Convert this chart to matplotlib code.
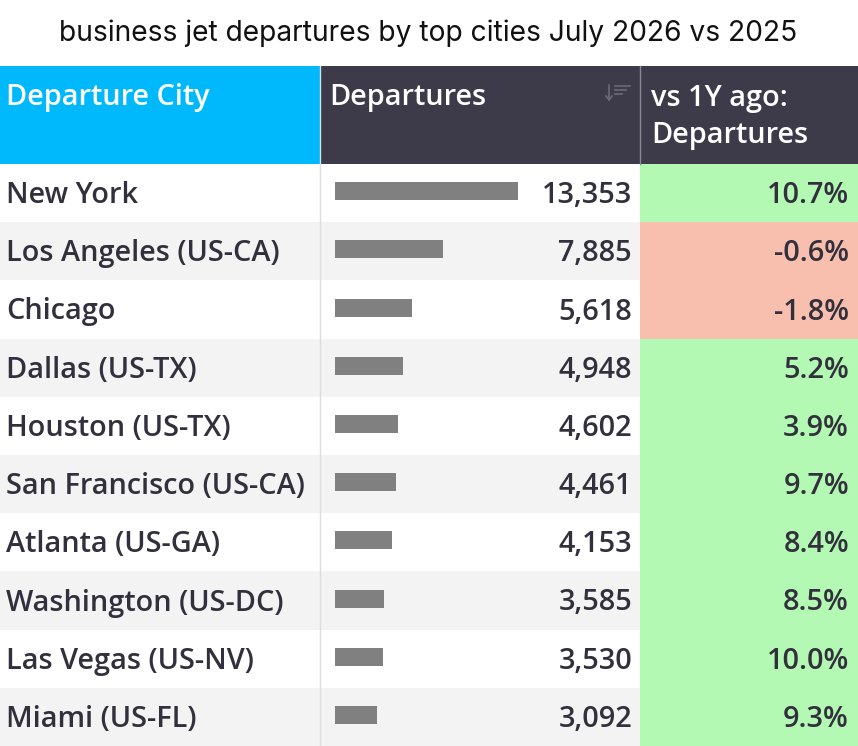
import numpy as np
import matplotlib.pyplot as plt
from matplotlib.patches import Rectangle

cities = ["New York", "Los Angeles (US-CA)", "Chicago", "Dallas (US-TX)", "Houston (US-TX)",
          "San Francisco (US-CA)", "Atlanta (US-GA)", "Washington (US-DC)", "Las Vegas (US-NV)",
          "Miami (US-FL)"]
departures = [13353, 7885, 5618, 4948, 4602, 4461, 4153, 3585, 3530, 3092]
yoy_change = [10.7, -0.6, -1.8, 5.2, 3.9, 9.7, 8.4, 8.5, 10.0, 9.3]

title = "business jet departures by top cities July 2026 vs 2025"
headers = ["Departure City", "Departures", "vs 1Y ago:\nDepartures"]

W, H = 858, 746
fig = plt.figure(figsize=(W / 100, H / 100), dpi=100)
ax = fig.add_axes([0, 0, 1, 1])
ax.set_xlim(0, W)
ax.set_ylim(H, 0)
ax.axis("off")

FONT = "Open Sans"
FS = 20.8
TXT = "#32303c"
col_x = [0, 320, 640, W]
head_top, head_bot = 66, 164
row_h = (H - head_bot) / len(cities)
bar_left, bar_max = 335, 183  # pixels for the largest value
bar_scale = bar_max / max(departures)

ax.text(W / 2 - 1, 33, title, ha="center", va="center", fontsize=20.3, family="Inter", color="#111111")

# header
ax.add_patch(Rectangle((0, head_top), col_x[1], head_bot - head_top, color="#00b8fc", lw=0))
ax.add_patch(Rectangle((col_x[1], head_top), W - col_x[1], head_bot - head_top, color="#3d3a4a", lw=0))
ax.plot([col_x[2], col_x[2]], [head_top, head_bot], color="#8a8896", lw=1)
ax.plot([col_x[1], col_x[1]], [head_top, head_bot], color="#dddddd", lw=1)
ax.text(6, 98, headers[0], ha="left", va="center", fontsize=FS, family=FONT, weight="semibold", color="white")
ax.text(329, 98, headers[1], ha="left", va="center", fontsize=FS, family=FONT, weight="semibold", color="white")
ax.text(651, 117, headers[2], ha="left", va="center", fontsize=FS, family=FONT, weight="semibold",
        color="white", linespacing=1.38)
# faint sort icon
ax.plot([609, 609], [85, 100], color="#6b6978", lw=1.2)
ax.plot([606, 609, 612], [96, 100, 96], color="#6b6978", lw=1.2)
for k, w in enumerate([15, 11, 7]):
    ax.plot([615, 615 + w], [86 + k * 4, 86 + k * 4], color="#6b6978", lw=1.2)

# body rows
centers = head_bot + row_h * (np.arange(len(cities)) + 0.5)
for i, (city, dep, chg) in enumerate(zip(cities, departures, yoy_change)):
    top = head_bot + row_h * i
    bg = "white" if i % 2 == 0 else "#f3f3f3"
    ax.add_patch(Rectangle((0, top), col_x[2], row_h, color=bg, lw=0))
    cell = "#b3f9b3" if chg >= 0 else "#f9bfae"
    ax.add_patch(Rectangle((col_x[2], top), W - col_x[2], row_h, color=cell, lw=0))
    ax.text(6, centers[i] + 2.5, city, ha="left", va="center", fontsize=FS, family=FONT,
            weight="semibold", color=TXT)
    ax.text(632, centers[i] + 2.5, f"{dep:,}", ha="right", va="center", fontsize=FS, family=FONT,
            weight="semibold", color=TXT)
    ax.text(849, centers[i] + 2.5, f"{chg:.1f}%", ha="right", va="center", fontsize=FS, family=FONT,
            weight="semibold", color=TXT)

ax.barh(centers - 2, np.array(departures) * bar_scale, left=bar_left, height=18, color="#808080")
ax.plot([col_x[1], col_x[1]], [head_bot, H], color="#dddddd", lw=1)

fig.savefig("out.png", dpi=100)
